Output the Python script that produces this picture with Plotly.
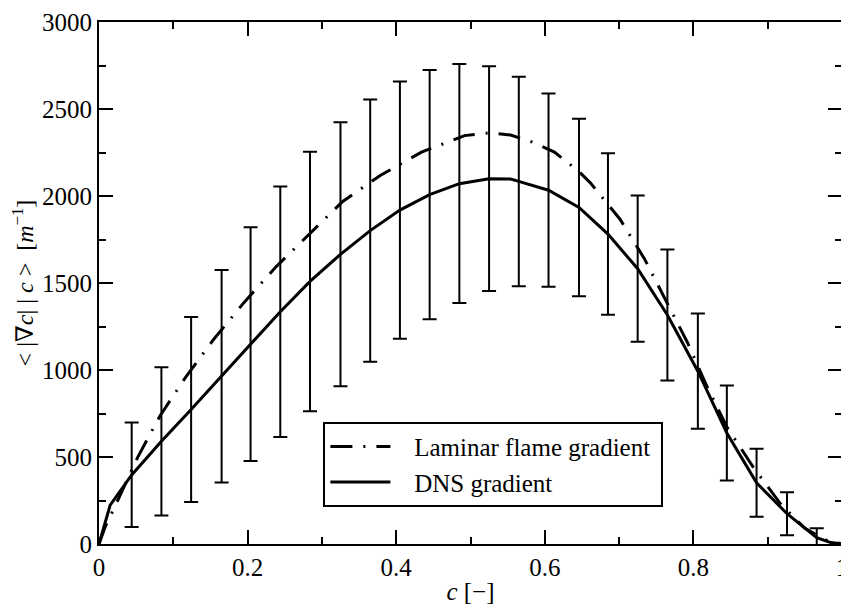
import plotly.graph_objects as go

# Laminar flame gradient (dash-dot curve)
c_lam = [0.0, 0.008, 0.019, 0.052, 0.082, 0.117, 0.155, 0.195, 0.237, 0.328, 0.379, 0.434,
         0.492, 0.525, 0.554, 0.583, 0.613, 0.645, 0.661, 0.701, 0.734, 0.763, 0.792,
         0.817, 0.845, 0.880, 0.917, 0.950, 0.980, 1.0]
g_lam = [0, 95, 194, 498, 736, 961, 1180, 1387, 1588, 1969, 2119, 2252,
         2347, 2363, 2350, 2310, 2252, 2144, 2077, 1868, 1640, 1398, 1158,
         917, 673, 445, 232, 90, 20, 0]

# DNS gradient (solid curve)
c_dns = [0.0, 0.015, 0.044, 0.084, 0.124, 0.165, 0.204, 0.244, 0.284, 0.325, 0.365, 0.405,
         0.445, 0.485, 0.525, 0.554, 0.565, 0.605, 0.646, 0.685, 0.725, 0.765, 0.806,
         0.845, 0.885, 0.926, 0.966, 0.985, 1.0]
g_dns = [0, 223, 397, 590, 773, 964, 1148, 1335, 1509, 1665, 1801, 1919,
         2008, 2071, 2099, 2098, 2084, 2033, 1934, 1781, 1582, 1316, 993,
         638, 352, 174, 37, 8, 0]

# Error bars (conditional mean +/- std)
c_err = [0.044, 0.084, 0.124, 0.165, 0.204, 0.244, 0.284, 0.325, 0.365, 0.405, 0.445, 0.485,
         0.525, 0.565, 0.605, 0.646, 0.685, 0.725, 0.765, 0.806, 0.845, 0.885, 0.926, 0.966]
m_err = [397.5, 590, 773, 964.5, 1148.5, 1335, 1509, 1665, 1801.5, 1919, 2008, 2071.5,
         2099.5, 2084, 2033.5, 1934, 1781.5, 1582.5, 1316.5, 993, 638, 352, 174, 37.5]
s_err = [300.5, 426, 532, 610.5, 671.5, 720, 746, 759, 753.5, 739, 716, 686.5,
         645.5, 602, 555.5, 510, 463.5, 420.5, 376.5, 331, 273, 196, 123, 52.5]

x_ticks = [0, 0.2, 0.4, 0.6, 0.8, 1]
x_labels = ["0", "0.2", "0.4", "0.6", "0.8", "1"]
y_ticks = [0, 500, 1000, 1500, 2000, 2500, 3000]

FONT = "'Liberation Serif', 'Times New Roman', Times, 'DejaVu Serif', serif"
FS = 25

fig = go.Figure()
fig.add_trace(go.Scatter(
    x=c_err, y=m_err, mode="markers", marker=dict(size=1, opacity=0, color="black"),
    error_y=dict(type="data", array=s_err, visible=True, color="black", thickness=2, width=7),
    showlegend=False, hoverinfo="skip"))
fig.add_trace(go.Scatter(
    x=c_lam, y=g_lam, mode="lines", name="&nbsp;&nbsp;&nbsp;Laminar flame gradient&nbsp;",
    line=dict(color="black", width=3, dash="22px,11px,2px,11px")))
fig.add_trace(go.Scatter(
    x=c_dns, y=g_dns, mode="lines", name="&nbsp;&nbsp;&nbsp;DNS gradient",
    line=dict(color="black", width=3)))

axis_common = dict(
    showline=True, linewidth=2, linecolor="black", mirror="ticks",
    ticks="inside", ticklen=14, tickwidth=2, tickcolor="black",
    showgrid=False, zeroline=False, ticklabeloverflow="allow",
    tickfont=dict(family=FONT, size=FS, color="black"),
)

fig.update_xaxes(
    range=[0, 1], tickvals=x_ticks, ticktext=x_labels,
    minor=dict(ticks="inside", ticklen=7, tickwidth=2, tickcolor="black", dtick=0.1, showgrid=False),
    title=dict(text="<i>c</i> [−]", font=dict(family=FONT, size=FS, color="black"), standoff=2),
    **axis_common)
fig.update_yaxes(
    range=[0, 3000], tickvals=y_ticks,
    minor=dict(ticks="inside", ticklen=7, tickwidth=2, tickcolor="black", dtick=250, showgrid=False),
    title=dict(text="&lt; |∇<i>c</i>| | <i>c</i> &gt;&nbsp;&nbsp;[<i>m</i><sup>−1</sup>]",
               font=dict(family=FONT, size=24, color="black"), standoff=2),
    ticklabelstandoff=0,
    **axis_common)

# The page body keeps an 8px margin, so the figure is sized/offset to land the
# plot area where the reference has it inside the 849x606 window.
fig.update_layout(
    width=841, height=598,
    margin=dict(l=91, r=1, t=10, b=62),
    paper_bgcolor="white", plot_bgcolor="white",
    font=dict(family=FONT, size=FS, color="black"),
    legend=dict(x=0.302, y=0.234, xanchor="left", yanchor="top",
                bgcolor="white", bordercolor="black", borderwidth=2,
                font=dict(family=FONT, size=FS, color="black"),
                itemwidth=60, tracegroupgap=0),
)

fig.write_html("out.html")
